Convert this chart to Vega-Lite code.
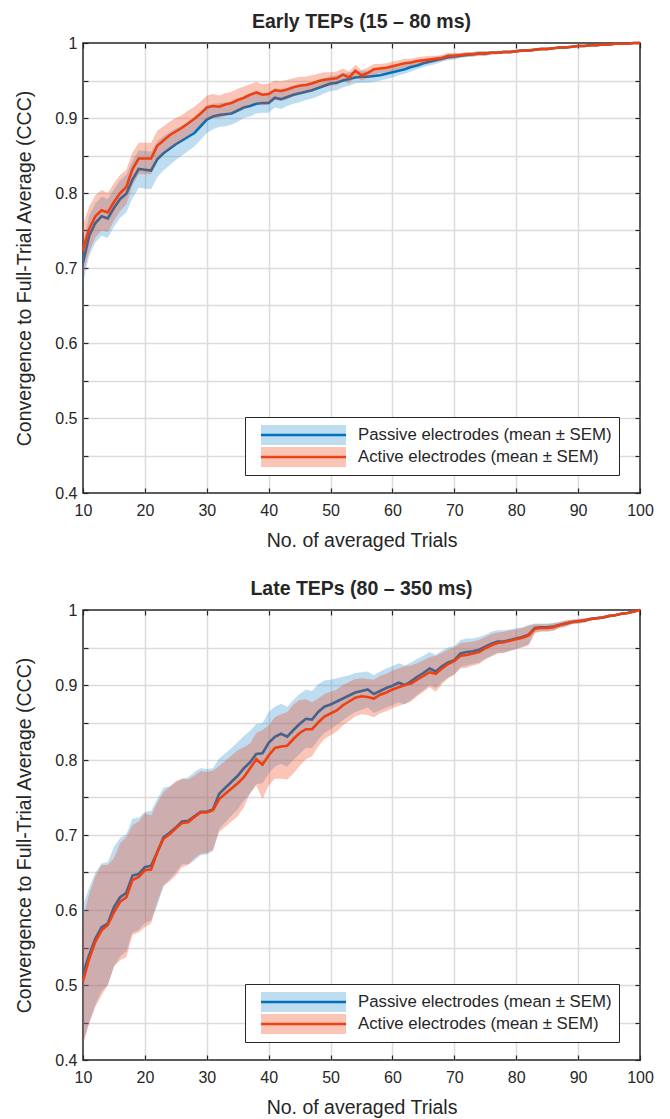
{
"$schema": "https://vega.github.io/schema/vega-lite/v6.json",
"background": "white",
"padding": {"left": 14, "top": 10, "right": 5, "bottom": 0},
"config": {
  "font": "Liberation Sans",
  "view": {"stroke": "#262626", "strokeWidth": 1.5},
  "axis": {"domain": false, "labelFlush": false, "tickColor": "#262626", "tickWidth": 1.2, "tickSize": -5, "labelColor": "#262626", "labelFontSize": 16, "titleColor": "#262626", "titleFontSize": 19.5, "titleFontWeight": "normal", "gridColor": "#dcdcdc", "gridWidth": 1.5},
  "title": {"fontSize": 19.5, "fontWeight": "bold", "color": "#262626", "anchor": "middle", "offset": 3}
},
"datasets": {
"early": [
{"x":10,"pm":0.707,"pl":0.680,"ph":0.734,"am":0.725,"al":0.692,"ah":0.758},
{"x":11,"pm":0.743,"pl":0.716,"ph":0.770,"am":0.752,"al":0.722,"ah":0.782},
{"x":12,"pm":0.760,"pl":0.734,"ph":0.786,"am":0.769,"al":0.741,"ah":0.797},
{"x":13,"pm":0.769,"pl":0.743,"ph":0.795,"am":0.777,"al":0.750,"ah":0.804},
{"x":14,"pm":0.766,"pl":0.740,"ph":0.792,"am":0.774,"al":0.748,"ah":0.800},
{"x":15,"pm":0.780,"pl":0.755,"ph":0.805,"am":0.788,"al":0.763,"ah":0.813},
{"x":16,"pm":0.792,"pl":0.767,"ph":0.817,"am":0.800,"al":0.776,"ah":0.824},
{"x":17,"pm":0.799,"pl":0.774,"ph":0.824,"am":0.808,"al":0.785,"ah":0.831},
{"x":18,"pm":0.818,"pl":0.793,"ph":0.843,"am":0.832,"al":0.810,"ah":0.854},
{"x":19,"pm":0.832,"pl":0.807,"ph":0.857,"am":0.846,"al":0.825,"ah":0.867},
{"x":20,"pm":0.831,"pl":0.806,"ph":0.856,"am":0.846,"al":0.825,"ah":0.867},
{"x":21,"pm":0.830,"pl":0.805,"ph":0.855,"am":0.846,"al":0.825,"ah":0.867},
{"x":22,"pm":0.845,"pl":0.821,"ph":0.869,"am":0.863,"al":0.843,"ah":0.883},
{"x":23,"pm":0.853,"pl":0.830,"ph":0.876,"am":0.870,"al":0.851,"ah":0.889},
{"x":24,"pm":0.859,"pl":0.837,"ph":0.881,"am":0.877,"al":0.859,"ah":0.895},
{"x":25,"pm":0.865,"pl":0.844,"ph":0.886,"am":0.882,"al":0.864,"ah":0.900},
{"x":26,"pm":0.870,"pl":0.850,"ph":0.890,"am":0.887,"al":0.870,"ah":0.904},
{"x":27,"pm":0.875,"pl":0.856,"ph":0.894,"am":0.893,"al":0.876,"ah":0.910},
{"x":28,"pm":0.880,"pl":0.862,"ph":0.898,"am":0.899,"al":0.883,"ah":0.915},
{"x":29,"pm":0.889,"pl":0.871,"ph":0.907,"am":0.906,"al":0.890,"ah":0.922},
{"x":30,"pm":0.898,"pl":0.880,"ph":0.916,"am":0.914,"al":0.898,"ah":0.930},
{"x":31,"pm":0.902,"pl":0.885,"ph":0.919,"am":0.916,"al":0.900,"ah":0.932},
{"x":32,"pm":0.904,"pl":0.888,"ph":0.920,"am":0.915,"al":0.900,"ah":0.930},
{"x":33,"pm":0.905,"pl":0.889,"ph":0.921,"am":0.918,"al":0.903,"ah":0.933},
{"x":34,"pm":0.906,"pl":0.891,"ph":0.921,"am":0.920,"al":0.905,"ah":0.935},
{"x":35,"pm":0.910,"pl":0.895,"ph":0.925,"am":0.924,"al":0.909,"ah":0.939},
{"x":36,"pm":0.914,"pl":0.900,"ph":0.928,"am":0.927,"al":0.912,"ah":0.942},
{"x":37,"pm":0.916,"pl":0.902,"ph":0.930,"am":0.931,"al":0.917,"ah":0.945},
{"x":38,"pm":0.919,"pl":0.906,"ph":0.932,"am":0.934,"al":0.920,"ah":0.948},
{"x":39,"pm":0.920,"pl":0.907,"ph":0.933,"am":0.931,"al":0.917,"ah":0.945},
{"x":40,"pm":0.920,"pl":0.907,"ph":0.933,"am":0.932,"al":0.918,"ah":0.946},
{"x":41,"pm":0.927,"pl":0.914,"ph":0.940,"am":0.937,"al":0.924,"ah":0.950},
{"x":42,"pm":0.925,"pl":0.912,"ph":0.938,"am":0.936,"al":0.923,"ah":0.949},
{"x":43,"pm":0.928,"pl":0.916,"ph":0.940,"am":0.938,"al":0.925,"ah":0.951},
{"x":44,"pm":0.931,"pl":0.919,"ph":0.943,"am":0.941,"al":0.929,"ah":0.953},
{"x":45,"pm":0.933,"pl":0.921,"ph":0.945,"am":0.943,"al":0.931,"ah":0.955},
{"x":46,"pm":0.935,"pl":0.924,"ph":0.946,"am":0.944,"al":0.933,"ah":0.955},
{"x":47,"pm":0.937,"pl":0.926,"ph":0.948,"am":0.946,"al":0.935,"ah":0.957},
{"x":48,"pm":0.940,"pl":0.929,"ph":0.951,"am":0.949,"al":0.939,"ah":0.959},
{"x":49,"pm":0.943,"pl":0.933,"ph":0.953,"am":0.951,"al":0.941,"ah":0.961},
{"x":50,"pm":0.946,"pl":0.936,"ph":0.956,"am":0.952,"al":0.943,"ah":0.961},
{"x":51,"pm":0.947,"pl":0.937,"ph":0.957,"am":0.953,"al":0.944,"ah":0.962},
{"x":52,"pm":0.950,"pl":0.941,"ph":0.959,"am":0.958,"al":0.950,"ah":0.966},
{"x":53,"pm":0.952,"pl":0.943,"ph":0.961,"am":0.954,"al":0.946,"ah":0.962},
{"x":54,"pm":0.954,"pl":0.946,"ph":0.962,"am":0.963,"al":0.955,"ah":0.971},
{"x":55,"pm":0.955,"pl":0.947,"ph":0.963,"am":0.957,"al":0.950,"ah":0.964},
{"x":56,"pm":0.955,"pl":0.947,"ph":0.963,"am":0.960,"al":0.953,"ah":0.967},
{"x":57,"pm":0.956,"pl":0.948,"ph":0.964,"am":0.965,"al":0.958,"ah":0.972},
{"x":58,"pm":0.957,"pl":0.950,"ph":0.964,"am":0.966,"al":0.960,"ah":0.972},
{"x":59,"pm":0.959,"pl":0.952,"ph":0.966,"am":0.967,"al":0.961,"ah":0.973},
{"x":60,"pm":0.961,"pl":0.954,"ph":0.968,"am":0.969,"al":0.963,"ah":0.975},
{"x":61,"pm":0.963,"pl":0.957,"ph":0.969,"am":0.971,"al":0.965,"ah":0.977},
{"x":62,"pm":0.965,"pl":0.959,"ph":0.971,"am":0.973,"al":0.967,"ah":0.979},
{"x":63,"pm":0.968,"pl":0.962,"ph":0.974,"am":0.974,"al":0.969,"ah":0.979},
{"x":64,"pm":0.970,"pl":0.965,"ph":0.975,"am":0.976,"al":0.971,"ah":0.981},
{"x":65,"pm":0.973,"pl":0.968,"ph":0.978,"am":0.977,"al":0.972,"ah":0.982},
{"x":66,"pm":0.975,"pl":0.970,"ph":0.980,"am":0.978,"al":0.973,"ah":0.983},
{"x":67,"pm":0.977,"pl":0.972,"ph":0.982,"am":0.979,"al":0.975,"ah":0.983},
{"x":68,"pm":0.979,"pl":0.975,"ph":0.983,"am":0.980,"al":0.976,"ah":0.984},
{"x":69,"pm":0.981,"pl":0.977,"ph":0.985,"am":0.983,"al":0.979,"ah":0.987},
{"x":70,"pm":0.982,"pl":0.978,"ph":0.986,"am":0.983,"al":0.979,"ah":0.987},
{"x":71,"pm":0.983,"pl":0.980,"ph":0.986,"am":0.984,"al":0.981,"ah":0.987},
{"x":72,"pm":0.984,"pl":0.981,"ph":0.987,"am":0.985,"al":0.982,"ah":0.988},
{"x":73,"pm":0.985,"pl":0.982,"ph":0.988,"am":0.985,"al":0.982,"ah":0.988},
{"x":74,"pm":0.986,"pl":0.983,"ph":0.989,"am":0.986,"al":0.983,"ah":0.989},
{"x":75,"pm":0.986,"pl":0.983,"ph":0.989,"am":0.986,"al":0.983,"ah":0.989},
{"x":76,"pm":0.987,"pl":0.985,"ph":0.989,"am":0.987,"al":0.985,"ah":0.989},
{"x":77,"pm":0.987,"pl":0.985,"ph":0.989,"am":0.987,"al":0.985,"ah":0.989},
{"x":78,"pm":0.988,"pl":0.986,"ph":0.990,"am":0.988,"al":0.986,"ah":0.990},
{"x":79,"pm":0.988,"pl":0.986,"ph":0.990,"am":0.988,"al":0.986,"ah":0.990},
{"x":80,"pm":0.989,"pl":0.987,"ph":0.991,"am":0.989,"al":0.987,"ah":0.991},
{"x":81,"pm":0.990,"pl":0.988,"ph":0.992,"am":0.990,"al":0.988,"ah":0.992},
{"x":82,"pm":0.990,"pl":0.988,"ph":0.992,"am":0.990,"al":0.988,"ah":0.992},
{"x":83,"pm":0.991,"pl":0.989,"ph":0.993,"am":0.991,"al":0.989,"ah":0.993},
{"x":84,"pm":0.992,"pl":0.990,"ph":0.994,"am":0.992,"al":0.990,"ah":0.994},
{"x":85,"pm":0.992,"pl":0.990,"ph":0.994,"am":0.992,"al":0.990,"ah":0.994},
{"x":86,"pm":0.993,"pl":0.992,"ph":0.994,"am":0.993,"al":0.992,"ah":0.994},
{"x":87,"pm":0.994,"pl":0.993,"ph":0.995,"am":0.994,"al":0.993,"ah":0.995},
{"x":88,"pm":0.994,"pl":0.993,"ph":0.995,"am":0.994,"al":0.993,"ah":0.995},
{"x":89,"pm":0.995,"pl":0.994,"ph":0.996,"am":0.995,"al":0.994,"ah":0.996},
{"x":90,"pm":0.996,"pl":0.995,"ph":0.997,"am":0.996,"al":0.995,"ah":0.997},
{"x":91,"pm":0.996,"pl":0.995,"ph":0.997,"am":0.996,"al":0.995,"ah":0.997},
{"x":92,"pm":0.997,"pl":0.996,"ph":0.998,"am":0.997,"al":0.996,"ah":0.998},
{"x":93,"pm":0.997,"pl":0.996,"ph":0.998,"am":0.997,"al":0.996,"ah":0.998},
{"x":94,"pm":0.998,"pl":0.997,"ph":0.999,"am":0.998,"al":0.997,"ah":0.999},
{"x":95,"pm":0.998,"pl":0.997,"ph":0.999,"am":0.998,"al":0.997,"ah":0.999},
{"x":96,"pm":0.999,"pl":0.998,"ph":1.0,"am":0.999,"al":0.998,"ah":1.0},
{"x":97,"pm":0.999,"pl":0.999,"ph":0.999,"am":0.999,"al":0.999,"ah":0.999},
{"x":98,"pm":0.999,"pl":0.999,"ph":0.999,"am":0.999,"al":0.999,"ah":0.999},
{"x":99,"pm":1.0,"pl":1.0,"ph":1.0,"am":1.0,"al":1.0,"ah":1.0},
{"x":100,"pm":1.0,"pl":1.0,"ph":1.0,"am":1.0,"al":1.0,"ah":1.0}
],
"late": [
{"x":10,"pm":0.515,"pl":0.424,"ph":0.606,"am":0.505,"al":0.420,"ah":0.590},
{"x":11,"pm":0.540,"pl":0.450,"ph":0.630,"am":0.535,"al":0.449,"ah":0.621},
{"x":12,"pm":0.562,"pl":0.474,"ph":0.650,"am":0.558,"al":0.471,"ah":0.645},
{"x":13,"pm":0.577,"pl":0.492,"ph":0.662,"am":0.573,"al":0.486,"ah":0.660},
{"x":14,"pm":0.582,"pl":0.500,"ph":0.664,"am":0.580,"al":0.500,"ah":0.660},
{"x":15,"pm":0.604,"pl":0.524,"ph":0.684,"am":0.597,"al":0.525,"ah":0.669},
{"x":16,"pm":0.617,"pl":0.538,"ph":0.696,"am":0.611,"al":0.533,"ah":0.689},
{"x":17,"pm":0.623,"pl":0.545,"ph":0.701,"am":0.617,"al":0.537,"ah":0.697},
{"x":18,"pm":0.646,"pl":0.570,"ph":0.722,"am":0.640,"al":0.567,"ah":0.713},
{"x":19,"pm":0.648,"pl":0.573,"ph":0.723,"am":0.644,"al":0.570,"ah":0.718},
{"x":20,"pm":0.657,"pl":0.583,"ph":0.731,"am":0.653,"al":0.577,"ah":0.729},
{"x":21,"pm":0.659,"pl":0.586,"ph":0.732,"am":0.654,"al":0.582,"ah":0.726},
{"x":22,"pm":0.677,"pl":0.606,"ph":0.748,"am":0.677,"al":0.611,"ah":0.743},
{"x":23,"pm":0.697,"pl":0.631,"ph":0.763,"am":0.695,"al":0.633,"ah":0.757},
{"x":24,"pm":0.703,"pl":0.641,"ph":0.765,"am":0.701,"al":0.638,"ah":0.764},
{"x":25,"pm":0.710,"pl":0.650,"ph":0.770,"am":0.709,"al":0.646,"ah":0.772},
{"x":26,"pm":0.718,"pl":0.661,"ph":0.775,"am":0.716,"al":0.657,"ah":0.775},
{"x":27,"pm":0.719,"pl":0.661,"ph":0.777,"am":0.717,"al":0.660,"ah":0.774},
{"x":28,"pm":0.725,"pl":0.666,"ph":0.784,"am":0.724,"al":0.669,"ah":0.779},
{"x":29,"pm":0.731,"pl":0.673,"ph":0.789,"am":0.730,"al":0.675,"ah":0.785},
{"x":30,"pm":0.731,"pl":0.674,"ph":0.788,"am":0.730,"al":0.676,"ah":0.784},
{"x":31,"pm":0.734,"pl":0.679,"ph":0.789,"am":0.733,"al":0.680,"ah":0.786},
{"x":32,"pm":0.755,"pl":0.708,"ph":0.802,"am":0.748,"al":0.704,"ah":0.792},
{"x":33,"pm":0.763,"pl":0.717,"ph":0.809,"am":0.755,"al":0.711,"ah":0.799},
{"x":34,"pm":0.771,"pl":0.726,"ph":0.816,"am":0.762,"al":0.718,"ah":0.806},
{"x":35,"pm":0.779,"pl":0.734,"ph":0.824,"am":0.769,"al":0.725,"ah":0.813},
{"x":36,"pm":0.789,"pl":0.746,"ph":0.832,"am":0.777,"al":0.737,"ah":0.817},
{"x":37,"pm":0.797,"pl":0.755,"ph":0.839,"am":0.789,"al":0.756,"ah":0.822},
{"x":38,"pm":0.808,"pl":0.768,"ph":0.848,"am":0.801,"al":0.766,"ah":0.836},
{"x":39,"pm":0.809,"pl":0.769,"ph":0.849,"am":0.794,"al":0.748,"ah":0.840},
{"x":40,"pm":0.823,"pl":0.782,"ph":0.864,"am":0.806,"al":0.766,"ah":0.846},
{"x":41,"pm":0.831,"pl":0.791,"ph":0.871,"am":0.816,"al":0.775,"ah":0.857},
{"x":42,"pm":0.835,"pl":0.795,"ph":0.875,"am":0.818,"al":0.775,"ah":0.861},
{"x":43,"pm":0.831,"pl":0.791,"ph":0.871,"am":0.819,"al":0.774,"ah":0.864},
{"x":44,"pm":0.840,"pl":0.800,"ph":0.880,"am":0.828,"al":0.782,"ah":0.874},
{"x":45,"pm":0.848,"pl":0.808,"ph":0.888,"am":0.836,"al":0.792,"ah":0.880},
{"x":46,"pm":0.855,"pl":0.816,"ph":0.894,"am":0.841,"al":0.801,"ah":0.881},
{"x":47,"pm":0.854,"pl":0.816,"ph":0.892,"am":0.841,"al":0.805,"ah":0.877},
{"x":48,"pm":0.864,"pl":0.827,"ph":0.901,"am":0.850,"al":0.818,"ah":0.882},
{"x":49,"pm":0.871,"pl":0.836,"ph":0.906,"am":0.858,"al":0.828,"ah":0.888},
{"x":50,"pm":0.874,"pl":0.841,"ph":0.907,"am":0.862,"al":0.833,"ah":0.891},
{"x":51,"pm":0.878,"pl":0.847,"ph":0.909,"am":0.866,"al":0.838,"ah":0.894},
{"x":52,"pm":0.882,"pl":0.853,"ph":0.911,"am":0.873,"al":0.846,"ah":0.900},
{"x":53,"pm":0.886,"pl":0.859,"ph":0.913,"am":0.878,"al":0.852,"ah":0.904},
{"x":54,"pm":0.890,"pl":0.864,"ph":0.916,"am":0.883,"al":0.858,"ah":0.908},
{"x":55,"pm":0.892,"pl":0.867,"ph":0.917,"am":0.885,"al":0.861,"ah":0.909},
{"x":56,"pm":0.894,"pl":0.870,"ph":0.918,"am":0.884,"al":0.860,"ah":0.908},
{"x":57,"pm":0.888,"pl":0.863,"ph":0.913,"am":0.882,"al":0.857,"ah":0.907},
{"x":58,"pm":0.892,"pl":0.866,"ph":0.918,"am":0.887,"al":0.862,"ah":0.912},
{"x":59,"pm":0.896,"pl":0.870,"ph":0.922,"am":0.890,"al":0.865,"ah":0.915},
{"x":60,"pm":0.899,"pl":0.873,"ph":0.925,"am":0.894,"al":0.869,"ah":0.919},
{"x":61,"pm":0.903,"pl":0.877,"ph":0.929,"am":0.897,"al":0.872,"ah":0.922},
{"x":62,"pm":0.900,"pl":0.874,"ph":0.926,"am":0.900,"al":0.875,"ah":0.925},
{"x":63,"pm":0.905,"pl":0.880,"ph":0.930,"am":0.902,"al":0.878,"ah":0.926},
{"x":64,"pm":0.911,"pl":0.887,"ph":0.935,"am":0.907,"al":0.885,"ah":0.929},
{"x":65,"pm":0.916,"pl":0.893,"ph":0.939,"am":0.912,"al":0.891,"ah":0.933},
{"x":66,"pm":0.922,"pl":0.900,"ph":0.944,"am":0.917,"al":0.897,"ah":0.937},
{"x":67,"pm":0.918,"pl":0.896,"ph":0.940,"am":0.915,"al":0.891,"ah":0.939},
{"x":68,"pm":0.925,"pl":0.904,"ph":0.946,"am":0.922,"al":0.901,"ah":0.943},
{"x":69,"pm":0.930,"pl":0.910,"ph":0.950,"am":0.928,"al":0.909,"ah":0.947},
{"x":70,"pm":0.933,"pl":0.914,"ph":0.952,"am":0.932,"al":0.914,"ah":0.950},
{"x":71,"pm":0.942,"pl":0.924,"ph":0.960,"am":0.939,"al":0.922,"ah":0.956},
{"x":72,"pm":0.944,"pl":0.926,"ph":0.962,"am":0.940,"al":0.923,"ah":0.957},
{"x":73,"pm":0.945,"pl":0.928,"ph":0.962,"am":0.942,"al":0.926,"ah":0.958},
{"x":74,"pm":0.947,"pl":0.930,"ph":0.964,"am":0.944,"al":0.928,"ah":0.960},
{"x":75,"pm":0.951,"pl":0.935,"ph":0.967,"am":0.949,"al":0.934,"ah":0.964},
{"x":76,"pm":0.955,"pl":0.939,"ph":0.971,"am":0.953,"al":0.938,"ah":0.968},
{"x":77,"pm":0.958,"pl":0.943,"ph":0.973,"am":0.956,"al":0.942,"ah":0.970},
{"x":78,"pm":0.958,"pl":0.943,"ph":0.973,"am":0.957,"al":0.943,"ah":0.971},
{"x":79,"pm":0.960,"pl":0.946,"ph":0.974,"am":0.959,"al":0.945,"ah":0.973},
{"x":80,"pm":0.962,"pl":0.948,"ph":0.976,"am":0.961,"al":0.948,"ah":0.974},
{"x":81,"pm":0.964,"pl":0.951,"ph":0.977,"am":0.963,"al":0.950,"ah":0.976},
{"x":82,"pm":0.967,"pl":0.954,"ph":0.980,"am":0.966,"al":0.953,"ah":0.979},
{"x":83,"pm":0.976,"pl":0.970,"ph":0.982,"am":0.975,"al":0.969,"ah":0.981},
{"x":84,"pm":0.977,"pl":0.972,"ph":0.982,"am":0.976,"al":0.971,"ah":0.981},
{"x":85,"pm":0.977,"pl":0.972,"ph":0.982,"am":0.976,"al":0.971,"ah":0.981},
{"x":86,"pm":0.978,"pl":0.973,"ph":0.983,"am":0.977,"al":0.972,"ah":0.982},
{"x":87,"pm":0.980,"pl":0.976,"ph":0.984,"am":0.980,"al":0.976,"ah":0.984},
{"x":88,"pm":0.982,"pl":0.978,"ph":0.986,"am":0.982,"al":0.978,"ah":0.986},
{"x":89,"pm":0.984,"pl":0.981,"ph":0.987,"am":0.984,"al":0.981,"ah":0.987},
{"x":90,"pm":0.985,"pl":0.982,"ph":0.988,"am":0.985,"al":0.982,"ah":0.988},
{"x":91,"pm":0.986,"pl":0.983,"ph":0.989,"am":0.986,"al":0.983,"ah":0.989},
{"x":92,"pm":0.988,"pl":0.986,"ph":0.990,"am":0.988,"al":0.986,"ah":0.990},
{"x":93,"pm":0.989,"pl":0.987,"ph":0.991,"am":0.989,"al":0.987,"ah":0.991},
{"x":94,"pm":0.990,"pl":0.988,"ph":0.992,"am":0.990,"al":0.988,"ah":0.992},
{"x":95,"pm":0.992,"pl":0.990,"ph":0.994,"am":0.992,"al":0.990,"ah":0.994},
{"x":96,"pm":0.993,"pl":0.992,"ph":0.994,"am":0.993,"al":0.992,"ah":0.994},
{"x":97,"pm":0.995,"pl":0.994,"ph":0.996,"am":0.995,"al":0.994,"ah":0.996},
{"x":98,"pm":0.996,"pl":0.995,"ph":0.997,"am":0.996,"al":0.995,"ah":0.997},
{"x":99,"pm":0.998,"pl":0.998,"ph":0.998,"am":0.998,"al":0.998,"ah":0.998},
{"x":100,"pm":1.0,"pl":1.0,"ph":1.0,"am":1.0,"al":1.0,"ah":1.0}
]
},
"spacing": 26,
"resolve": {"scale": {"fill": "independent", "stroke": "independent"}, "legend": {"fill": "independent", "stroke": "independent"}},
"vconcat": [
{
  "title": {"text": "Early TEPs (15 – 80 ms)"},
  "width": 557, "height": 450,
  "data": {"name": "early"},
  "resolve": {"axis": {"x": "independent", "y": "independent"}},
  "layer": [
    {"mark": {"type": "area", "fillOpacity": 0.3},
     "encoding": {
       "x": {"field": "x", "type": "quantitative", "scale": {"domain": [10, 100], "nice": false, "zero": false},
             "axis": {"orient": "bottom", "values": [10,20,30,40,50,60,70,80,90,100], "format": "d", "title": "No. of averaged Trials", "grid": true, "gridOpacity": {"condition": {"test": "datum.value <= 10 || datum.value >= 100", "value": 0}, "value": 1}, "labelPadding": 14, "titlePadding": 13}},
       "y": {"field": "pl", "type": "quantitative", "scale": {"domain": [0.4, 1], "nice": false, "zero": false},
             "axis": {"orient": "left", "values": [0.4,0.45,0.5,0.55,0.6,0.65,0.7,0.75,0.8,0.85,0.9,0.95,1], "labelExpr": "round(datum.value*20)%2==1 ? '' : format(datum.value, '~g')", "title": "Convergence to Full-Trial Average (CCC)", "grid": true, "gridOpacity": {"condition": {"test": "datum.value <= 0.4 || datum.value >= 1", "value": 0}, "value": 1}, "labelPadding": 11, "titlePadding": 20}},
       "y2": {"field": "ph"},
       "fill": {"datum": "Passive band", "type": "nominal", "scale": {"domain": ["Passive band", "Active band"], "range": ["#2a8fcf", "#f04010"]},
                "legend": {"orient": "none", "legendX": 162, "legendY": 374, "title": null, "symbolType": "M-4.25,-1H4.25V1H-4.25Z", "symbolSize": 400, "symbolOpacity": 0.3, "symbolStrokeColor": "transparent", "symbolStrokeWidth": 2.6, "symbolOffset": 40, "labelOffset": 43, "labelLimit": 0, "labelFontSize": 16.8, "labelOpacity": 0, "labelExpr": "datum.label == 'Passive band' ? 'Passive electrodes (mean ± SEM)' : 'Active electrodes (mean ± SEM)'", "strokeColor": "#262626", "fillColor": "white", "padding": 7, "rowPadding": 0, "clipHeight": 22, "zindex": 1}}
     }},
    {"mark": {"type": "line", "strokeWidth": 2.6},
     "encoding": {
       "x": {"field": "x", "type": "quantitative", "axis": {"orient": "top", "values": [10,20,30,40,50,60,70,80,90,100], "labels": false, "title": null, "grid": false}},
       "y": {"field": "pm", "type": "quantitative", "axis": {"orient": "right", "values": [0.4,0.45,0.5,0.55,0.6,0.65,0.7,0.75,0.8,0.85,0.9,0.95,1], "labels": false, "title": null, "grid": false}},
       "stroke": {"datum": "Passive electrodes (mean ± SEM)", "type": "nominal", "scale": {"domain": ["Passive electrodes (mean ± SEM)", "Active electrodes (mean ± SEM)"], "range": ["#0072bd", "#ee4010"]},
                  "legend": {"orient": "none", "legendX": 162, "legendY": 374, "title": null, "symbolType": "M-4.25,0H4.25", "symbolSize": 400, "symbolStrokeWidth": 2.6, "symbolOffset": 40, "labelOffset": 43, "labelLimit": 0, "labelFontSize": 16.8, "labelColor": "#262626", "padding": 7, "rowPadding": 0, "clipHeight": 22, "zindex": 2}}
     }},
    {"mark": {"type": "area", "fillOpacity": 0.3},
     "encoding": {
       "x": {"field": "x", "type": "quantitative", "axis": null},
       "y": {"field": "al", "type": "quantitative", "axis": null},
       "y2": {"field": "ah"},
       "fill": {"datum": "Active band", "type": "nominal"}
     }},
    {"mark": {"type": "line", "strokeWidth": 2.6},
     "encoding": {
       "x": {"field": "x", "type": "quantitative", "axis": null},
       "y": {"field": "am", "type": "quantitative", "axis": null},
       "stroke": {"datum": "Active electrodes (mean ± SEM)", "type": "nominal"}
     }}
  ]
},
{
  "title": {"text": "Late TEPs (80 – 350 ms)"},
  "width": 557, "height": 450,
  "data": {"name": "late"},
  "resolve": {"axis": {"x": "independent", "y": "independent"}},
  "layer": [
    {"mark": {"type": "area", "fillOpacity": 0.3},
     "encoding": {
       "x": {"field": "x", "type": "quantitative", "scale": {"domain": [10, 100], "nice": false, "zero": false},
             "axis": {"orient": "bottom", "values": [10,20,30,40,50,60,70,80,90,100], "format": "d", "title": "No. of averaged Trials", "grid": true, "gridOpacity": {"condition": {"test": "datum.value <= 10 || datum.value >= 100", "value": 0}, "value": 1}, "labelPadding": 14, "titlePadding": 13}},
       "y": {"field": "pl", "type": "quantitative", "scale": {"domain": [0.4, 1], "nice": false, "zero": false},
             "axis": {"orient": "left", "values": [0.4,0.45,0.5,0.55,0.6,0.65,0.7,0.75,0.8,0.85,0.9,0.95,1], "labelExpr": "round(datum.value*20)%2==1 ? '' : format(datum.value, '~g')", "title": "Convergence to Full-Trial Average (CCC)", "grid": true, "gridOpacity": {"condition": {"test": "datum.value <= 0.4 || datum.value >= 1", "value": 0}, "value": 1}, "labelPadding": 11, "titlePadding": 20}},
       "y2": {"field": "ph"},
       "fill": {"datum": "Passive band", "type": "nominal", "scale": {"domain": ["Passive band", "Active band"], "range": ["#2a8fcf", "#f04010"]},
                "legend": {"orient": "none", "legendX": 162, "legendY": 374, "title": null, "symbolType": "M-4.25,-1H4.25V1H-4.25Z", "symbolSize": 400, "symbolOpacity": 0.3, "symbolStrokeColor": "transparent", "symbolStrokeWidth": 2.6, "symbolOffset": 40, "labelOffset": 43, "labelLimit": 0, "labelFontSize": 16.8, "labelOpacity": 0, "labelExpr": "datum.label == 'Passive band' ? 'Passive electrodes (mean ± SEM)' : 'Active electrodes (mean ± SEM)'", "strokeColor": "#262626", "fillColor": "white", "padding": 7, "rowPadding": 0, "clipHeight": 22, "zindex": 1}}
     }},
    {"mark": {"type": "line", "strokeWidth": 2.6},
     "encoding": {
       "x": {"field": "x", "type": "quantitative", "axis": {"orient": "top", "values": [10,20,30,40,50,60,70,80,90,100], "labels": false, "title": null, "grid": false}},
       "y": {"field": "pm", "type": "quantitative", "axis": {"orient": "right", "values": [0.4,0.45,0.5,0.55,0.6,0.65,0.7,0.75,0.8,0.85,0.9,0.95,1], "labels": false, "title": null, "grid": false}},
       "stroke": {"datum": "Passive electrodes (mean ± SEM)", "type": "nominal", "scale": {"domain": ["Passive electrodes (mean ± SEM)", "Active electrodes (mean ± SEM)"], "range": ["#0072bd", "#ee4010"]},
                  "legend": {"orient": "none", "legendX": 162, "legendY": 374, "title": null, "symbolType": "M-4.25,0H4.25", "symbolSize": 400, "symbolStrokeWidth": 2.6, "symbolOffset": 40, "labelOffset": 43, "labelLimit": 0, "labelFontSize": 16.8, "labelColor": "#262626", "padding": 7, "rowPadding": 0, "clipHeight": 22, "zindex": 2}}
     }},
    {"mark": {"type": "area", "fillOpacity": 0.3},
     "encoding": {
       "x": {"field": "x", "type": "quantitative", "axis": null},
       "y": {"field": "al", "type": "quantitative", "axis": null},
       "y2": {"field": "ah"},
       "fill": {"datum": "Active band", "type": "nominal"}
     }},
    {"mark": {"type": "line", "strokeWidth": 2.6},
     "encoding": {
       "x": {"field": "x", "type": "quantitative", "axis": null},
       "y": {"field": "am", "type": "quantitative", "axis": null},
       "stroke": {"datum": "Active electrodes (mean ± SEM)", "type": "nominal"}
     }}
  ]
}
]
}
